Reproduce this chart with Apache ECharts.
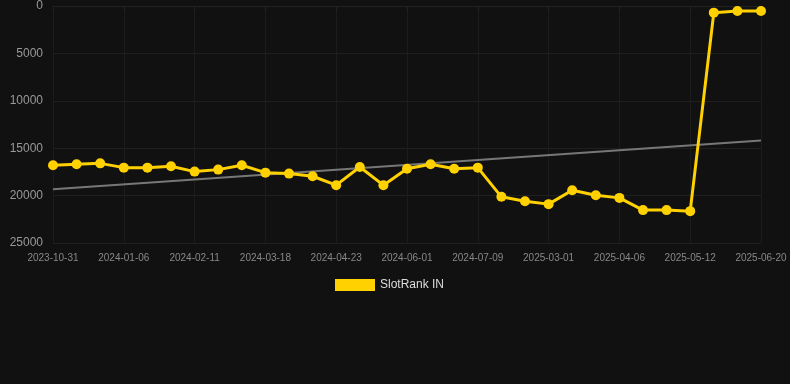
<!DOCTYPE html>
<html>
<head>
<meta charset="utf-8">
<script src="https://cdn.jsdelivr.net/npm/echarts@6/dist/echarts.min.js"></script>
<style>
html, body { margin: 0; padding: 0; background: #111111; }
#chart { width: 790px; height: 384px; }
</style>
</head>
<body>
<div id="chart"></div>
<script>
// 横坐标日期
var dates = [
	'2023-10-31', '2023-11-22', '2023-12-14',
	'2024-01-06', '2024-01-18', '2024-01-30',
	'2024-02-11', '2024-02-23', '2024-03-06',
	'2024-03-18', '2024-03-30', '2024-04-11',
	'2024-04-23', '2024-05-06', '2024-05-19',
	'2024-06-01', '2024-06-14', '2024-06-26',
	'2024-07-09', '2024-10-12', '2024-12-20',
	'2025-03-01', '2025-03-13', '2025-03-25',
	'2025-04-06', '2025-04-18', '2025-04-30',
	'2025-05-12', '2025-05-25', '2025-06-07',
	'2025-06-20'
];
// 排名数据
var rankValues = [
	16800, 16700, 16600, 17050, 17050, 16900, 17470, 17260, 16800,
	17580, 17680, 17960, 18900, 16980, 18900, 17160, 16700, 17160,
	17050, 20130, 20590, 20900, 19430, 19960, 20240, 21530, 21530,
	21640, 700, 525, 525
];
// 趋势线起点和终点
var trendStart = 19330;
var trendEnd = 14180;
// Y轴刻度
var yMin = 0;
var yMax = 25000;
var yStep = 5000;

var trendData = [];
for (var i = 0; i < dates.length; i++) {
	trendData[i] = null;
}
trendData[0] = trendStart;
trendData[dates.length - 1] = trendEnd;

var dom = document.getElementById('chart');
var myChart = echarts.init(dom);

myChart.setOption({
	backgroundColor: '#111111',
	animation: false,
	grid: {
		left: 53,
		right: 29,
		top: 5,
		bottom: 141
	},
	legend: {
		data: ['SlotRank IN'],
		bottom: 88,
		left: 330,
		itemWidth: 40,
		itemHeight: 12,
		itemGap: 6,
		icon: 'rect',
		textStyle: { color: '#dddddd', fontSize: 12, fontFamily: 'Liberation Sans, Arial' }
	},
	xAxis: {
		type: 'category',
		data: dates,
		boundaryGap: false,
		axisLine: { show: true, lineStyle: { color: '#222222' } },
		axisTick: { show: true, interval: 2, lineStyle: { color: '#222222' } },
		axisLabel: {
			interval: 2,
			color: '#888888',
			fontSize: 10,
			margin: 10,
			fontFamily: 'Liberation Sans, Arial'
		},
		splitLine: { show: true, interval: 2, lineStyle: { color: '#1c1c1c' } }
	},
	yAxis: {
		type: 'value',
		inverse: true,
		min: yMin,
		max: yMax,
		interval: yStep,
		axisLine: { show: false },
		axisTick: { show: false },
		axisLabel: {
			color: '#999999',
			fontSize: 12,
			margin: 10,
			fontFamily: 'Liberation Sans, Arial',
			formatter: function (v) { return String(v); }
		},
		splitLine: { lineStyle: { color: '#1f1f1f' } }
	},
	series: [
		{
			name: 'Trend',
			type: 'line',
			data: trendData,
			connectNulls: true,
			symbol: 'none',
			lineStyle: { color: '#777777', width: 2 },
			z: 1
		},
		{
			name: 'SlotRank IN',
			type: 'line',
			data: rankValues,
			symbol: 'circle',
			symbolSize: 10,
			itemStyle: { color: '#FFD100' },
			lineStyle: { color: '#FFD100', width: 3 },
			z: 2
		}
	]
});
</script>
</body>
</html>
